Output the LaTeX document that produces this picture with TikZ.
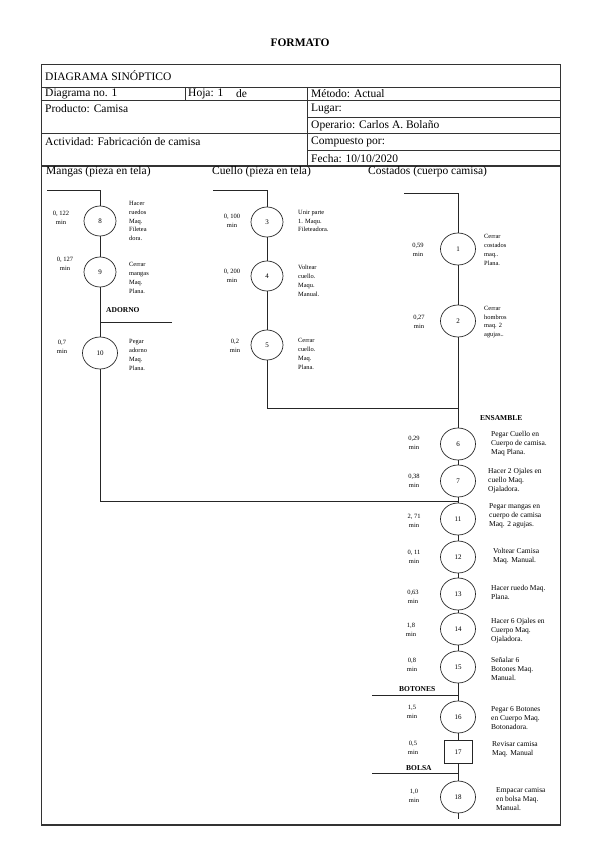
\documentclass[tikz,border=0pt]{standalone}
\usepackage{fontspec}
\setmainfont{Liberation Serif}
\usepackage{tikz}
\usetikzlibrary{shapes.geometric,positioning}
\tikzset{
  sinop-frame/.style={draw=black!80, line width=0.8pt},
  sinop-head/.style={anchor=west, inner sep=0pt, font=\fontsize{11.5}{12}\selectfont},
  sinop-op/.style={draw=black!85, ellipse, line width=0.7pt, minimum width=35pt, minimum height=32pt,
    inner sep=0pt, font=\fontsize{7}{8}\selectfont},
  sinop-opsmall/.style={sinop-op, minimum width=32pt, minimum height=30pt},
  sinop-insp/.style={draw=black!85, rectangle, line width=0.6pt, minimum width=28pt, minimum height=23pt,
    inner sep=0pt, font=\fontsize{7}{8}\selectfont},
  sinop-time/.style={align=center, inner sep=0pt, font=\fontsize{6.5}{8.5}\selectfont},
  sinop-desc/.style={anchor=west, align=left, inner sep=0pt, font=\fontsize{7.5}{9}\selectfont},
  sinop-descsmall/.style={sinop-desc, font=\fontsize{6.4}{8.8}\selectfont},
  sinop-sect/.style={anchor=west, inner sep=0pt, font=\fontsize{7.5}{8}\selectfont\bfseries},
  sinop-line/.style={draw=black!85, line width=0.7pt}
}

\begin{document}
\begin{tikzpicture}[x=1pt, y=-1pt]
  \useasboundingbox (0,0) rectangle (599,848);

  % Title
  \node[font=\fontsize{11.5}{12}\selectfont\bfseries] (title) at (300,43) {FORMATO};

  % Form table
  \draw[sinop-frame] (41,64) rectangle (560,825);
  \draw[sinop-frame] (41,87) -- (560,87);
  \draw[sinop-frame] (41,100) -- (560,100);
  \draw[sinop-frame] (307,117) -- (560,117);
  \draw[sinop-frame] (41,133) -- (560,133);
  \draw[sinop-frame] (307,150) -- (560,150);
  \draw[sinop-frame, line width=1.6pt] (41,166) -- (560,166);
  \draw[sinop-frame, line width=1.6pt] (41,825) -- (560,825);
  \draw[sinop-frame] (185,87) -- (185,100);
  \draw[sinop-frame] (307,87) -- (307,166);

  \node[sinop-head] (h-diag) at (45,76) {DIAGRAMA SINÓPTICO};
  \node[sinop-head] (h-no) at (45,93.5) {Diagrama no. 1};
  \node[sinop-head] (h-hoja) at (188,93.5) {Hoja: 1};
  \node[sinop-head] (h-de) at (236,93.5) {de};
  \node[sinop-head] (h-metodo) at (311,93.5) {Método: Actual};
  \node[sinop-head] (h-prod) at (45,109) {Producto: Camisa};
  \node[sinop-head] (h-lugar) at (311,108.5) {Lugar:};
  \node[sinop-head] (h-oper) at (311,125.5) {Operario: Carlos A. Bolaño};
  \node[sinop-head] (h-act) at (45,142) {Actividad: Fabricación de camisa};
  \node[sinop-head] (h-comp) at (311,141.5) {Compuesto por:};
  \node[sinop-head] (h-fecha) at (311,158.5) {Fecha: 10/10/2020};
  \node[sinop-head] (h-mangas) at (46,172) {Mangas (pieza en tela)};
  \node[sinop-head] (h-cuello) at (212,172) {Cuello (pieza en tela)};
  \node[sinop-head] (h-costados) at (368,172) {Costados (cuerpo camisa)};

  % Mangas
  \node[sinop-opsmall] (o8) at (100,221) {8};
  \node[sinop-time] (t8) at (61,218) {0, 122\\min};
  \node[sinop-descsmall] (d8) at (129,221) {Hacer\\ruedos\\Maq.\\Filetea\\dora.};
  \node[sinop-opsmall] (o9) at (100,272) {9};
  \node[sinop-time] (t9) at (65,264) {0, 127\\min};
  \node[sinop-descsmall] (d9) at (129,278) {Cerrar\\mangas\\Maq.\\Plana.};
  \node[sinop-sect] (adorno) at (106,310) {ADORNO};
  \node[sinop-op] (o10) at (100,353) {10};
  \node[sinop-time] (t10) at (62,347) {0,7\\min};
  \node[sinop-descsmall] (d10) at (129,355) {Pegar\\adorno\\Maq.\\Plana.};

  % Cuello
  \node[sinop-opsmall] (o3) at (267,222) {3};
  \node[sinop-time] (t3) at (232,221) {0, 100\\min};
  \node[sinop-descsmall] (d3) at (298,221) {Unir parte\\1. Maqu.\\Fileteadora.};
  \node[sinop-opsmall] (o4) at (267,276) {4};
  \node[sinop-time] (t4) at (232,276) {0, 200\\min};
  \node[sinop-descsmall] (d4) at (298,281) {Voltear\\cuello.\\Maqu.\\Manual.};
  \node[sinop-opsmall] (o5) at (267,345) {5};
  \node[sinop-time] (t5) at (235,346) {0,2\\min};
  \node[sinop-descsmall] (d5) at (298,354) {Cerrar\\cuello.\\Maq.\\Plana.};

  % Costados y ensamble
  \node[sinop-op] (o1) at (458,249) {1};
  \node[sinop-time] (t1) at (418,250) {0,59\\min};
  \node[sinop-descsmall] (d1) at (484,250) {Cerrar\\costados\\maq..\\Plana.};
  \node[sinop-op] (o2) at (458,321) {2};
  \node[sinop-time] (t2) at (419,322) {0,27\\min};
  \node[sinop-descsmall] (d2) at (484,322) {Cerrar\\hombros\\maq. 2\\agujas..};
  \node[sinop-sect] (ensamble) at (480,418) {ENSAMBLE};
  \node[sinop-op] (o6) at (458,444) {6};
  \node[sinop-time] (t6) at (414,443) {0,29\\min};
  \node[sinop-desc] (d6) at (491,444) {Pegar Cuello en\\Cuerpo de camisa.\\Maq Plana.};
  \node[sinop-op] (o7) at (458,481) {7};
  \node[sinop-time] (t7) at (414,481) {0,38\\min};
  \node[sinop-desc] (d7) at (488,481) {Hacer 2 Ojales en\\cuello Maq.\\Ojaladora.};
  \node[sinop-op] (o11) at (458,519) {11};
  \node[sinop-time] (t11) at (414,521) {2, 71\\min};
  \node[sinop-desc] (d11) at (489,516) {Pegar mangas en\\cuerpo de camisa\\Maq. 2 agujas.};
  \node[sinop-op] (o12) at (458,557) {12};
  \node[sinop-time] (t12) at (414,557) {0, 11\\min};
  \node[sinop-desc] (d12) at (493,556) {Voltear Camisa\\Maq. Manual.};
  \node[sinop-op] (o13) at (458,594) {13};
  \node[sinop-time] (t13) at (413,597) {0,63\\min};
  \node[sinop-desc] (d13) at (491,592) {Hacer ruedo Maq.\\Plana.};
  \node[sinop-op] (o14) at (458,629) {14};
  \node[sinop-time] (t14) at (411,630) {1,8\\min};
  \node[sinop-desc] (d14) at (491,631) {Hacer 6 Ojales en\\Cuerpo Maq.\\Ojaladora.};
  \node[sinop-op] (o15) at (458,667) {15};
  \node[sinop-time] (t15) at (412,665) {0,8\\min};
  \node[sinop-desc] (d15) at (491,669) {Señalar 6\\Botones Maq.\\Manual.};
  \node[sinop-sect] (botones) at (399,689) {BOTONES};
  \node[sinop-op] (o16) at (458,717) {16};
  \node[sinop-time] (t16) at (412,712) {1,5\\min};
  \node[sinop-desc] (d16) at (491,718) {Pegar 6 Botones\\en Cuerpo Maq.\\Botonadora.};
  \node[sinop-insp] (o17) at (458,752) {17};
  \node[sinop-time] (t17) at (413,748) {0,5\\min};
  \node[sinop-desc] (d17) at (492,749) {Revisar camisa\\Maq. Manual};
  \node[sinop-sect] (bolsa) at (406,768) {BOLSA};
  \node[sinop-op] (o18) at (458,797) {18};
  \node[sinop-time] (t18) at (414,796) {1,0\\min};
  \node[sinop-desc] (d18) at (496,799) {Empacar camisa\\en bolsa Maq.\\Manual.};

  % Connectors
  \coordinate (mangas-in) at (47,190);
  \coordinate (cuello-in) at (213,190);
  \coordinate (costados-in) at (404,193);
  \coordinate (cuello-join) at (458,408);
  \coordinate (mangas-join) at (458,501);
  \coordinate (adorno-in) at (172,322);
  \coordinate (botones-in) at (372,695);
  \coordinate (bolsa-in) at (372,773);
  \coordinate (fin) at (458,819);

  \draw[sinop-line] (mangas-in) -| (o8);
  \draw[sinop-line] (cuello-in) -| (o3);
  \draw[sinop-line] (costados-in) -| (o1);
  \foreach \a/\b in {o8/o9, o9/o10, o3/o4, o4/o5, o1/o2, o2/o6, o6/o7, o7/o11, o11/o12,
                     o12/o13, o13/o14, o14/o15, o15/o16, o16/o17, o17/o18, o18/fin}
    \draw[sinop-line] (\a) -- (\b);
  \draw[sinop-line] (o5) |- (cuello-join);
  \draw[sinop-line] (o10) |- (mangas-join);
  \draw[sinop-line] (adorno-in) -- (adorno-in -| o10);
  \draw[sinop-line] (botones-in) -- (botones-in -| o16);
  \draw[sinop-line] (bolsa-in) -- (bolsa-in -| o18);
\end{tikzpicture}
\end{document}
